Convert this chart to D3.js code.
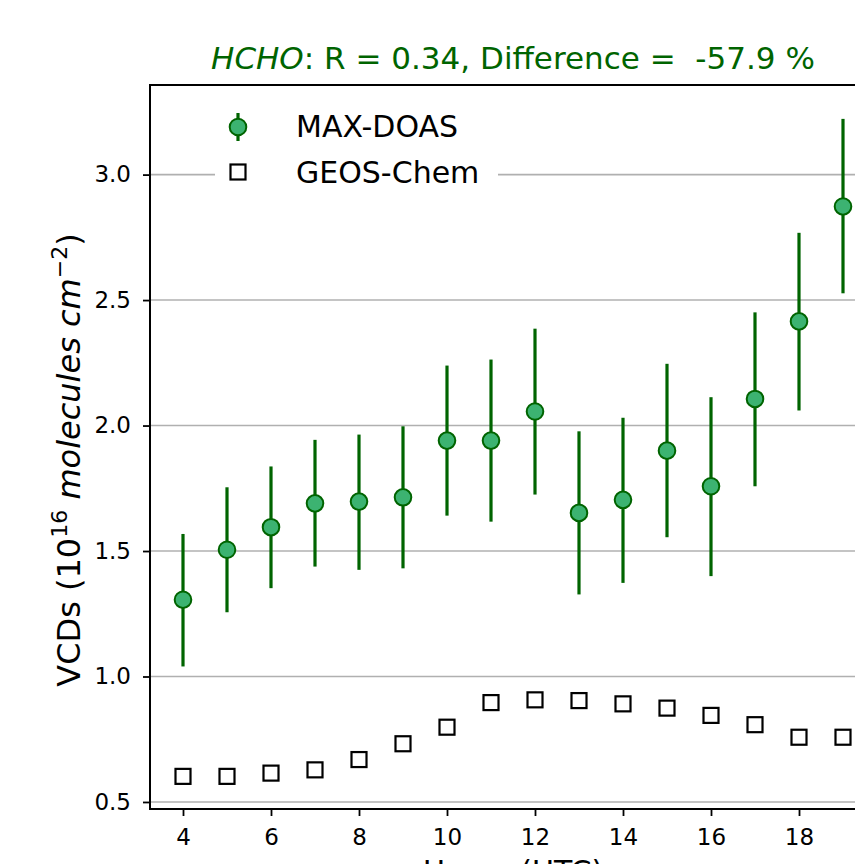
<!DOCTYPE html>
<html>
<head>
<meta charset="utf-8">
<script src="https://cdn.jsdelivr.net/npm/d3@7"></script>
<style>
  html, body { margin: 0; padding: 0; background: #fff; }
  svg { display: block; overflow: hidden; font-family: "DejaVu Sans", sans-serif; }
</style>
</head>
<body>
<svg id="chart" width="855" height="864"></svg>
<script>
// Hourly HCHO vertical column densities (10^16 molecules cm^-2)
const hours = [4, 5, 6, 7, 8, 9, 10, 11, 12, 13, 14, 15, 16, 17, 18, 19];
const maxdoasMean = [1.306, 1.505, 1.595, 1.690, 1.697, 1.714, 1.940, 1.940, 2.056, 1.652, 1.704, 1.900, 1.758, 2.106, 2.415, 2.873];
const maxdoasLow  = [1.040, 1.256, 1.352, 1.438, 1.425, 1.431, 1.641, 1.617, 1.725, 1.327, 1.373, 1.555, 1.400, 1.758, 2.060, 2.527];
const maxdoasHigh = [1.568, 1.754, 1.837, 1.943, 1.964, 1.997, 2.239, 2.263, 2.386, 1.977, 2.031, 2.246, 2.113, 2.451, 2.768, 3.222];
const geosChem    = [0.602, 0.602, 0.615, 0.628, 0.669, 0.732, 0.798, 0.896, 0.907, 0.904, 0.891, 0.874, 0.845, 0.808, 0.758, 0.758];
const xTicks = [4, 6, 8, 10, 12, 14, 16, 18];
const yTicks = [0.5, 1.0, 1.5, 2.0, 2.5, 3.0];

const GREEN_DARK = "#006400";
const GREEN_FILL = "#3cb371";

const svg = d3.select("#chart");
const plot = { left: 150, right: 876, top: 85, bottom: 809 };

const x = d3.scaleLinear().domain([3.25, 19.75]).range([plot.left, plot.right]);
const y = d3.scaleLinear().domain([0.472, 3.357]).range([plot.bottom, plot.top]);

// Horizontal grid lines
svg.append("g")
  .selectAll("line")
  .data(yTicks)
  .join("line")
  .attr("x1", plot.left).attr("x2", plot.right)
  .attr("y1", d => y(d)).attr("y2", d => y(d))
  .attr("stroke", "#b0b0b0").attr("stroke-width", 1.6);

// Axes
const xAxis = svg.append("g")
  .attr("transform", `translate(0,${plot.bottom})`)
  .call(d3.axisBottom(x).tickValues(xTicks).tickFormat(d3.format("d")).tickSize(7).tickPadding(13));
const yAxis = svg.append("g")
  .attr("transform", `translate(${plot.left},0)`)
  .call(d3.axisLeft(y).tickValues(yTicks).tickFormat(d3.format(".1f")).tickSize(7).tickPadding(12));

[xAxis, yAxis].forEach(g => {
  g.select(".domain").remove();
  g.selectAll(".tick line").attr("stroke", "#000").attr("stroke-width", 1.8);
  g.selectAll(".tick text").attr("fill", "#000").attr("font-size", 23)
    .attr("font-family", "DejaVu Sans, sans-serif");
});

// GEOS-Chem: open squares
const sq = 15;
svg.append("g")
  .selectAll("rect")
  .data(hours.map((h, i) => ({ h, v: geosChem[i] })))
  .join("rect")
  .attr("x", d => x(d.h) - sq / 2)
  .attr("y", d => y(d.v) - sq / 2)
  .attr("width", sq).attr("height", sq)
  .attr("fill", "none").attr("stroke", "#000").attr("stroke-width", 2.2);

// MAX-DOAS: error bars and filled circles
const doas = hours.map((h, i) => ({ h, m: maxdoasMean[i], lo: maxdoasLow[i], hi: maxdoasHigh[i] }));
svg.append("g")
  .selectAll("line")
  .data(doas)
  .join("line")
  .attr("x1", d => x(d.h)).attr("x2", d => x(d.h))
  .attr("y1", d => y(d.lo)).attr("y2", d => y(d.hi))
  .attr("stroke", GREEN_DARK).attr("stroke-width", 3.2);
svg.append("g")
  .selectAll("circle")
  .data(doas)
  .join("circle")
  .attr("cx", d => x(d.h)).attr("cy", d => y(d.m))
  .attr("r", 8.3)
  .attr("fill", GREEN_FILL).attr("stroke", GREEN_DARK).attr("stroke-width", 2);

// Frame
svg.append("rect")
  .attr("x", plot.left).attr("y", plot.top)
  .attr("width", plot.right - plot.left).attr("height", plot.bottom - plot.top)
  .attr("fill", "none").attr("stroke", "#000").attr("stroke-width", 2);

// Legend
const legend = svg.append("g");
legend.append("rect")
  .attr("x", 215).attr("y", 98).attr("width", 283).attr("height", 98)
  .attr("fill", "#fff");
legend.append("line")
  .attr("x1", 238).attr("x2", 238).attr("y1", 113).attr("y2", 141)
  .attr("stroke", GREEN_DARK).attr("stroke-width", 3.2);
legend.append("circle")
  .attr("cx", 238).attr("cy", 127).attr("r", 8.3)
  .attr("fill", GREEN_FILL).attr("stroke", GREEN_DARK).attr("stroke-width", 2);
legend.append("rect")
  .attr("x", 238 - sq / 2).attr("y", 172 - sq / 2).attr("width", sq).attr("height", sq)
  .attr("fill", "none").attr("stroke", "#000").attr("stroke-width", 2.2);
legend.append("text").attr("x", 296).attr("y", 137)
  .attr("font-size", 30).attr("fill", "#000").text("MAX-DOAS");
legend.append("text").attr("x", 296).attr("y", 183)
  .attr("font-size", 30).attr("fill", "#000").text("GEOS-Chem");

// Title
const title = svg.append("text")
  .attr("x", (plot.left + plot.right) / 2).attr("y", 69)
  .attr("text-anchor", "middle").attr("font-size", 31).attr("fill", GREEN_DARK)
  .attr("xml:space", "preserve");
title.append("tspan").attr("font-style", "italic").text("HCHO");
title.append("tspan").text(": R = 0.34, Difference =  -57.9 %");

// Y axis label
const ylab = svg.append("text")
  .attr("transform", `translate(80,460) rotate(-90)`)
  .attr("text-anchor", "middle").attr("font-size", 32).attr("fill", "#000");
ylab.append("tspan").text("VCDs (10");
ylab.append("tspan").attr("dy", -13).attr("font-size", 22).text("16");
ylab.append("tspan").attr("dy", 13).text(" ");
ylab.append("tspan").attr("font-style", "italic").text("molecules cm");
ylab.append("tspan").attr("dy", -13).attr("font-size", 22).text("−2");
ylab.append("tspan").attr("dy", 13).text(")");

// X axis label
svg.append("text")
  .attr("x", (plot.left + plot.right) / 2).attr("y", 882)
  .attr("text-anchor", "middle").attr("font-size", 30).attr("fill", "#000")
  .text("Hours (UTC)");
</script>
</body>
</html>
